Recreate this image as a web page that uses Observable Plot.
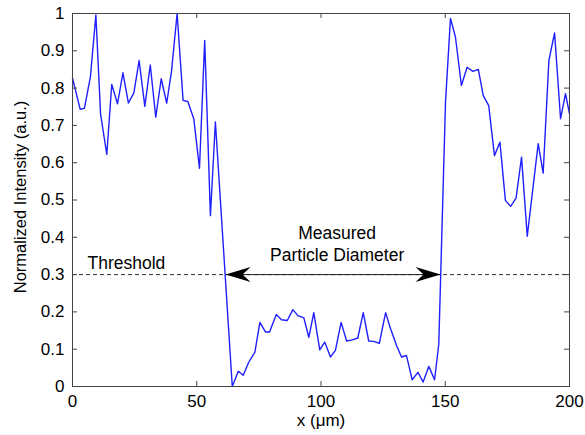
<!DOCTYPE html>
<html>
<head>
<meta charset="utf-8">
<script src="https://cdn.jsdelivr.net/npm/d3@7"></script>
<script src="https://cdn.jsdelivr.net/npm/@observablehq/plot@0.6"></script>
<style>
  html, body { margin: 0; padding: 0; background: #fff; }
</style>
</head>
<body>
<div id="chart"></div>
<script>
// Profile positions (µm) and normalized intensity
const xs = [0, 3.1, 4.8, 7.2, 9.4, 11.3, 13.8, 15.8, 18.1, 20.3, 22.5, 24.7, 26.8, 29.1, 31.3, 33.5, 35.7, 37.9, 39.8, 42.1,
  44.5, 46.4, 48.8, 51.1, 53.2, 55.5, 57.5, 64.3, 66.7, 68.7, 70.9, 73.4, 75.4, 77.7, 79.3, 82.0, 84.1, 86.4, 88.7,
  90.7, 93.1, 95.1, 97.1, 99.5, 101.5, 103.8, 105.8, 108.1, 110.3, 112.6, 114.8, 117.0, 119.2, 121.2, 123.5, 126.0,
  128.0, 130.4, 132.4, 134.4, 136.7, 139.0, 141.1, 143.4, 145.7, 147.4, 150.1, 152.1, 154.1, 156.5, 158.8, 161.1,
  163.3, 165.3, 167.5, 169.8, 172.0, 174.2, 176.3, 178.5, 180.7, 183.0, 187.4, 189.4, 191.7, 194.0, 196.4, 198.4, 200];
const ys = [0.827, 0.743, 0.746, 0.83, 0.996, 0.73, 0.622, 0.81, 0.758, 0.841, 0.76, 0.787, 0.874, 0.751, 0.862, 0.722, 0.825, 0.76, 0.843, 1.0,
  0.767, 0.764, 0.718, 0.585, 0.928, 0.458, 0.709, 0.0, 0.041, 0.03, 0.065, 0.092, 0.172, 0.146, 0.146, 0.193, 0.179, 0.177, 0.206,
  0.19, 0.184, 0.132, 0.198, 0.098, 0.119, 0.079, 0.097, 0.172, 0.122, 0.125, 0.13, 0.198, 0.122, 0.121, 0.116, 0.198,
  0.155, 0.11, 0.079, 0.083, 0.018, 0.038, 0.012, 0.054, 0.018, 0.114, 0.762, 0.987, 0.937, 0.807, 0.856, 0.845,
  0.85, 0.78, 0.753, 0.619, 0.655, 0.499, 0.483, 0.505, 0.615, 0.403, 0.651, 0.572, 0.874, 0.948, 0.718, 0.785, 0.731];

const xTicks = [0, 50, 100, 150, 200];
const yTicks = [0, 0.1, 0.2, 0.3, 0.4, 0.5, 0.6, 0.7, 0.8, 0.9, 1];
const threshold = 0.3;
const diameterEnds = [61.6, 148.1];   // threshold crossings (arrow tips)
const xLabel = "x (μm)";
const yLabel = "Normalized Intensity (a.u.)";
const thresholdLabel = "Threshold";
const annotLines = ["Measured", "Particle Diameter"];

const data = xs.map((x, i) => ({x, y: ys[i]}));

const arrowHead = {
  draw(ctx) {
    const L = 25, W = 7.5, N = 17;
    ctx.moveTo(0, 0);
    ctx.lineTo(-L, -W);
    ctx.lineTo(-N, 0);
    ctx.lineTo(-L, W);
    ctx.closePath();
  }
};

const W = 585, H = 435, mL = 72, mR = 16, mT = 13, mB = 49;
const pw = W - mL - mR, ph = H - mT - mB;
const tk = 5;
const frameColor = "#444";

const chart = Plot.plot({
  width: W, height: H,
  marginLeft: mL, marginRight: mR, marginTop: mT, marginBottom: mB,
  x: {domain: [0, 200]},
  y: {domain: [0, 1]},
  style: {fontFamily: "'Liberation Sans', Arial, Helvetica, sans-serif", fontSize: "17px", color: "#000", background: "#fff", overflow: "visible"},
  marks: [
    Plot.ruleY([threshold], {stroke: "#333", strokeWidth: 1, strokeDasharray: "4,3"}),
    Plot.link([diameterEnds], {x1: d => d[0], x2: d => d[1], y1: threshold, y2: threshold, stroke: "#222", strokeWidth: 1}),
    Plot.dot([diameterEnds[1]], {x: d => d, y: threshold, symbol: arrowHead, fill: "#000", stroke: null, r: 5}),
    Plot.dot([diameterEnds[0]], {x: d => d, y: threshold, symbol: arrowHead, fill: "#000", stroke: null, r: 5, rotate: 180}),
    Plot.line(data, {x: "x", y: "y", stroke: "#2020ff", strokeWidth: 1.4}),
    Plot.text([thresholdLabel], {x: 21.7, y: threshold, dy: -11, text: d => d, fill: "#000", fontSize: 17.5}),
    Plot.text([annotLines[0]], {x: 106.5, y: 0.41, text: d => d, fill: "#000", fontSize: 17.5}),
    Plot.text([annotLines[1]], {x: 106.5, y: 0.351, text: d => d, fill: "#000", fontSize: 17.5}),
    Plot.frame({stroke: frameColor, strokeWidth: 1}),
    Plot.tickX(xTicks, {x: d => d, insetTop: ph - tk, stroke: frameColor}),
    Plot.tickX(xTicks, {x: d => d, insetBottom: ph - tk, stroke: frameColor}),
    Plot.tickY(yTicks, {y: d => d, insetRight: pw - tk, stroke: frameColor}),
    Plot.tickY(yTicks, {y: d => d, insetLeft: pw - tk, stroke: frameColor}),
    Plot.axisX(xTicks, {tickSize: 0, tickPadding: 8, label: null, tickFormat: d => String(d)}),
    Plot.axisY(yTicks, {tickSize: 0, tickPadding: 8, label: null, tickFormat: d => String(d)}),
    Plot.text([xLabel], {frameAnchor: "bottom", dy: 39, text: d => d, fill: "#000"}),
    Plot.text([yLabel], {frameAnchor: "left", dx: -52, dy: -3, rotate: -90, textAnchor: "middle", text: d => d, fill: "#000", fontSize: 16.5})
  ]
});
document.getElementById("chart").appendChild(chart);
</script>
</body>
</html>
